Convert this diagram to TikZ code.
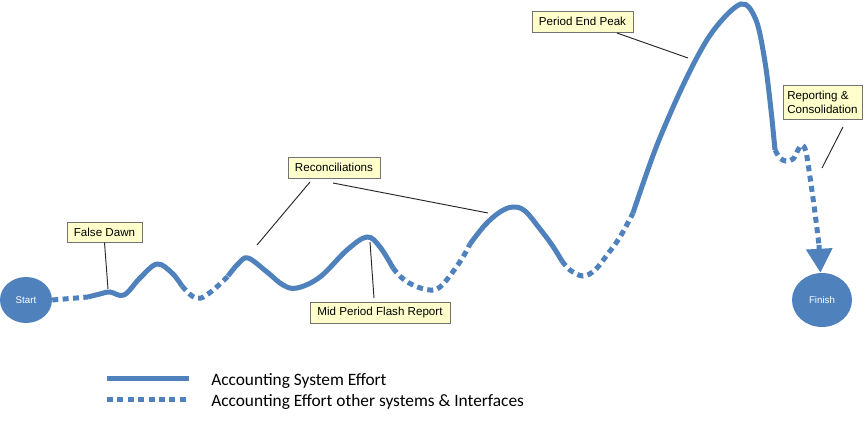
\documentclass[tikz,border=0pt]{standalone}
\usepackage{fontspec}
\setmainfont{Liberation Sans}
\newfontfamily\legendfont{Carlito}
\usetikzlibrary{arrows.meta,shapes.geometric}
\definecolor{acblue}{RGB}{79,129,189}
\definecolor{callfill}{RGB}{255,255,204}
\definecolor{callbord}{RGB}{115,115,115}
\begin{document}
\begin{tikzpicture}[x=0.75pt,y=-0.75pt,
  solidline/.style={draw=acblue,line width=3.75pt,line cap=butt},
  dotline/.style={draw=acblue,line width=3.75pt,line cap=butt,dash pattern=on 4.5pt off 3.3pt},
  callout/.style={draw=callbord,fill=callfill,line width=0.75pt,font=\fontsize{8.7}{10.4}\selectfont,inner sep=0pt},
  pointer/.style={draw=black!85,line width=0.7pt},
  endpt/.style={ellipse,fill=acblue,text=white,font=\fontsize{7.3}{8}\selectfont,inner sep=0pt},
  legtext/.style={anchor=base west,inner sep=0pt,font=\legendfont\fontsize{13}{14}\selectfont}]
\useasboundingbox (0,0) rectangle (868,421);

% start / finish
\node[endpt,minimum width=39pt,minimum height=34.5pt] (start) at (26,300) {Start};
\node[endpt,minimum width=45pt,minimum height=40.5pt] (finish) at (822,300) {Finish};

% effort curve
\coordinate (d0) at (88,297);
\draw[dotline] (start.east) -- (d0);
\draw[solidline] plot[smooth,tension=0.6] coordinates {(88,297) (100,294) (110,292) (124,295) (140,278) (157,264) (172,273) (182,286)};
\draw[dotline] plot[smooth,tension=0.6] coordinates {(182,286) (192,296) (201,298) (212,291) (222,282) (228,276)};
\draw[solidline] plot[smooth,tension=0.6] coordinates {(228,276) (238,264) (248,258) (267,272) (283,285) (297,288) (320,277) (347,250) (367,237) (380,247) (393,268)};
\draw[dotline] plot[smooth,tension=0.6] coordinates {(393,268) (402,278) (415,286) (430,290) (440,287) (452,273) (463,257) (470,244)};
\draw[solidline] plot[smooth,tension=0.6] coordinates {(470,244) (485,225) (500,212) (513,207) (525,211) (540,229) (552,245) (562,261)};
\draw[dotline] plot[smooth,tension=0.6] coordinates {(562,261) (570,270) (583,276) (595,270) (607,255) (620,237) (633,213)};
\draw[solidline] plot[smooth,tension=0.55] coordinates {(633,213) (657,145) (687,77) (713,31) (741,4) (756,20) (765,62) (771,110) (775,150)};
\coordinate (a4) at (819,245);
\draw[dotline] plot[smooth,tension=0.6] coordinates {(775,150) (780,158) (786,161) (793,159) (798,150) (802,145) (806,152) (810,177) (815,213) (819,245)};
\draw[dotline,-{Triangle[length=18pt,width=19pt]}] (a4) -- (finish);

% callouts
\node[callout,minimum width=56.25pt,minimum height=15pt] (fd) at (104.5,232) {False Dawn};
\node[callout,minimum width=69pt,minimum height=15.75pt] (rec) at (334,167.5) {Reconciliations};
\node[callout,minimum width=105pt,minimum height=15.75pt] (mid) at (380,312.5) {Mid Period Flash Report};
\node[callout,minimum width=75.75pt,minimum height=15.75pt] (pep) at (582.5,21.5) {Period End Peak};
\node[callout,minimum width=59.25pt,minimum height=25.5pt,align=left] (rep) at (822.5,102) {Reporting \&\\Consolidation};

\coordinate (fdp) at (108,289);
\coordinate (rc1) at (310,182);
\coordinate (rcp1) at (257,245);
\coordinate (rc2) at (333,183);
\coordinate (rcp2) at (488,213);
\coordinate (midp) at (370,242);
\coordinate (midb) at (374,298);
\coordinate (pepa) at (617,33);
\coordinate (pepp) at (688,58);
\coordinate (repa) at (843,127);
\coordinate (repp) at (822,168);
\draw[pointer] (fd.south) -- (fdp);
\draw[pointer] (rc1) -- (rcp1);
\draw[pointer] (rc2) -- (rcp2);
\draw[pointer] (midp) -- (midb);
\draw[pointer] (pepa) -- (pepp);
\draw[pointer] (repa) -- (repp);

% legend
\coordinate (l1a) at (107,378);
\coordinate (l1b) at (189,378);
\coordinate (l2a) at (107,399);
\coordinate (l2b) at (189,399);
\draw[solidline] (l1a) -- (l1b);
\draw[dotline] (l2a) -- (l2b);
\node[legtext] (lt1) at (211,385) {Accounting System Effort};
\node[legtext] (lt2) at (211,406) {Accounting Effort other systems \& Interfaces};
\end{tikzpicture}
\end{document}
